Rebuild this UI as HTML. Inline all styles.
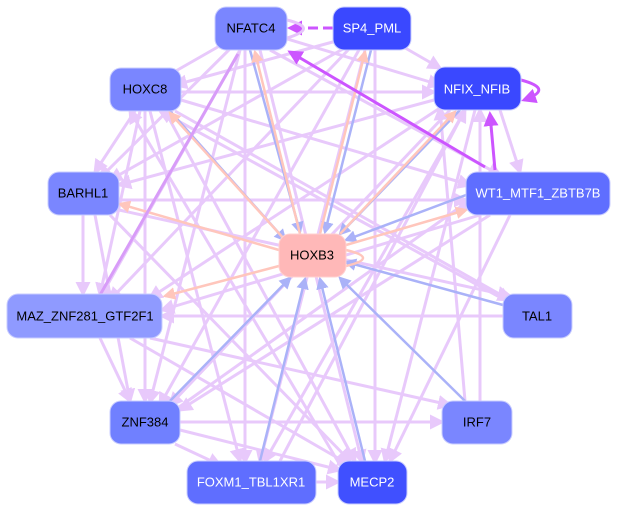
<!DOCTYPE html>
<html><head><meta charset="utf-8"><style>
body{margin:0;background:#fff}
svg{display:block}
text{font-family:"Liberation Sans",sans-serif;font-size:13px;text-anchor:middle;dominant-baseline:central}
</style></head><body>
<svg width="618" height="512" viewBox="0 0 618 512">
<defs>
<marker id="ml" markerWidth="5" markerHeight="5" refX="4" refY="2.5" orient="auto" markerUnits="strokeWidth"><path d="M0,0L5,2.5L0,5z" fill="#e6c4fb"/></marker>
<marker id="mb" markerWidth="5" markerHeight="5" refX="4" refY="2.5" orient="auto" markerUnits="strokeWidth"><path d="M0,0L5,2.5L0,5z" fill="#aab2f8"/></marker>
<marker id="mp" markerWidth="5" markerHeight="5" refX="4" refY="2.5" orient="auto" markerUnits="strokeWidth"><path d="M0,0L5,2.5L0,5z" fill="#ffc6bc"/></marker>
<marker id="md" markerWidth="5" markerHeight="5" refX="4" refY="2.5" orient="auto" markerUnits="strokeWidth"><path d="M0,0L5,2.5L0,5z" fill="#cc55ff"/></marker>
</defs>
<g stroke="#e6c4fb" stroke-width="3" fill="none" opacity="0.9" marker-end="url(#ml)">
<line x1="251" y1="28" x2="160" y2="80"/><line x1="251" y1="28" x2="440" y2="85"/><line x1="251" y1="28" x2="100" y2="178"/>
<line x1="240" y1="50" x2="100" y2="298"/><line x1="240" y1="50" x2="150" y2="402"/><line x1="245" y1="50" x2="245" y2="462"/>
<line x1="260" y1="50" x2="362" y2="462"/><line x1="270" y1="50" x2="500" y2="175"/>
<line x1="340" y1="40" x2="175" y2="85"/><line x1="400" y1="45" x2="440" y2="68"/><line x1="350" y1="45" x2="110" y2="180"/>
<line x1="350" y1="48" x2="110" y2="300"/><line x1="360" y1="48" x2="160" y2="405"/><line x1="375" y1="50" x2="375" y2="462"/>
<line x1="365" y1="50" x2="260" y2="462"/>
<line x1="181" y1="92" x2="434" y2="92"/><line x1="135" y1="111" x2="95" y2="172"/><line x1="181" y1="100" x2="470" y2="185"/>
<line x1="140" y1="111" x2="100" y2="295"/><line x1="175" y1="111" x2="510" y2="300"/><line x1="145" y1="111" x2="145" y2="401"/>
<line x1="150" y1="111" x2="240" y2="461"/><line x1="165" y1="111" x2="355" y2="461"/>
<line x1="434" y1="100" x2="119" y2="185"/><line x1="440" y1="108" x2="150" y2="298"/><line x1="450" y1="110" x2="170" y2="405"/>
<line x1="465" y1="110" x2="265" y2="461"/><line x1="475" y1="110" x2="385" y2="461"/><line x1="500" y1="110" x2="520" y2="172"/>
<line x1="119" y1="200" x2="466" y2="200"/><line x1="83" y1="215" x2="83" y2="294"/><line x1="95" y1="215" x2="130" y2="401"/>
<line x1="110" y1="215" x2="350" y2="461"/><line x1="119" y1="210" x2="510" y2="296"/>
<line x1="480" y1="215" x2="162" y2="310"/><line x1="490" y1="215" x2="180" y2="410"/><line x1="510" y1="215" x2="390" y2="461"/>
<line x1="503" y1="316" x2="162" y2="316"/><line x1="100" y1="338" x2="130" y2="401"/><line x1="130" y1="338" x2="350" y2="465"/>
<line x1="150" y1="338" x2="450" y2="405"/><line x1="180" y1="422" x2="442" y2="422"/><line x1="175" y1="444" x2="220" y2="465"/>
<line x1="180" y1="430" x2="340" y2="470"/><line x1="175" y1="410" x2="470" y2="200"/><line x1="316" y1="482" x2="338" y2="482"/>
<line x1="280" y1="461" x2="465" y2="110"/><line x1="340" y1="465" x2="130" y2="111"/><line x1="465" y1="401" x2="440" y2="108"/>
<line x1="505" y1="300" x2="160" y2="111"/><line x1="480" y1="401" x2="480" y2="110"/>
</g>
<g stroke="#aab2f8" stroke-width="2.5" marker-end="url(#mb)">
<line x1="371" y1="50" x2="325" y2="232"/><line x1="250" y1="50" x2="300" y2="232"/><line x1="460" y1="110" x2="340" y2="234"/>
<line x1="466" y1="195" x2="346" y2="240"/><line x1="503" y1="305" x2="346" y2="262"/><line x1="465" y1="401" x2="340" y2="278"/>
<line x1="365" y1="461" x2="320" y2="279"/><line x1="260" y1="461" x2="305" y2="279"/><line x1="170" y1="401" x2="290" y2="278"/>
<line x1="170" y1="111" x2="285" y2="240"/>
</g>
<g stroke="#ffc6bc" stroke-width="2.5" marker-end="url(#mp)">
<line x1="300" y1="234" x2="255" y2="52"/><line x1="320" y1="234" x2="365" y2="52"/><line x1="285" y1="240" x2="170" y2="113"/>
<line x1="279" y1="250" x2="120" y2="204"/><line x1="279" y1="266" x2="165" y2="296"/><line x1="340" y1="234" x2="455" y2="112"/>
<line x1="346" y1="245" x2="466" y2="210"/>
</g>
<path d="M346,250 Q380,258 346,266" stroke="#ffc6bc" stroke-width="2.5" fill="none"/>
<g stroke="#cc55ff" stroke-width="3" marker-end="url(#md)" fill="none">
<line x1="333" y1="28" x2="290" y2="28" stroke-dasharray="10,5"/>
<line x1="485" y1="167" x2="290" y2="52"/>
<line x1="495" y1="170" x2="490" y2="114"/>
<path d="M521,80 Q555,89 524,100"/>
</g>
<line x1="100" y1="295" x2="238" y2="54" stroke="#d89cf8" stroke-width="3"/>
<path d="M287,20 Q320,28 287,38" stroke="#e6c4fb" stroke-width="3" fill="none"/>
<g stroke="#c8ccff" stroke-width="1">
<rect x="215" y="7" width="72" height="43" rx="11" fill="#7a86ff"/>
<rect x="333" y="7" width="78" height="43" rx="11" fill="#3a48ff"/>
<rect x="110" y="68" width="71" height="43" rx="11" fill="#7a86ff"/>
<rect x="434" y="67" width="87" height="43" rx="11" fill="#3a48ff"/>
<rect x="48" y="172" width="71" height="43" rx="11" fill="#7a86ff"/>
<rect x="466" y="172" width="144" height="43" rx="11" fill="#5f6eff"/>
<rect x="279" y="234" width="67" height="43" rx="11" fill="#ffb8b8" stroke="#ffd0d0"/>
<rect x="7" y="294" width="155" height="44" rx="11" fill="#8f9aff"/>
<rect x="503" y="294" width="69" height="44" rx="11" fill="#7a86ff"/>
<rect x="110" y="401" width="70" height="43" rx="11" fill="#7080ff"/>
<rect x="442" y="401" width="70" height="43" rx="11" fill="#7a86ff"/>
<rect x="187" y="461" width="129" height="43" rx="11" fill="#5f6eff"/>
<rect x="338" y="461" width="69" height="43" rx="11" fill="#4050ff"/>
</g>
<text x="251" y="28">NFATC4</text>
<text x="372" y="28" fill="#fff">SP4_PML</text>
<text x="145" y="89">HOXC8</text>
<text x="477" y="89" fill="#fff">NFIX_NFIB</text>
<text x="83" y="193">BARHL1</text>
<text x="538" y="193" fill="#fff">WT1_MTF1_ZBTB7B</text>
<text x="312" y="255">HOXB3</text>
<text x="85" y="316">MAZ_ZNF281_GTF2F1</text>
<text x="537" y="316">TAL1</text>
<text x="145" y="422">ZNF384</text>
<text x="477" y="422">IRF7</text>
<text x="251" y="482" fill="#fff">FOXM1_TBL1XR1</text>
<text x="372" y="482" fill="#fff">MECP2</text>
</svg>
</body></html>
